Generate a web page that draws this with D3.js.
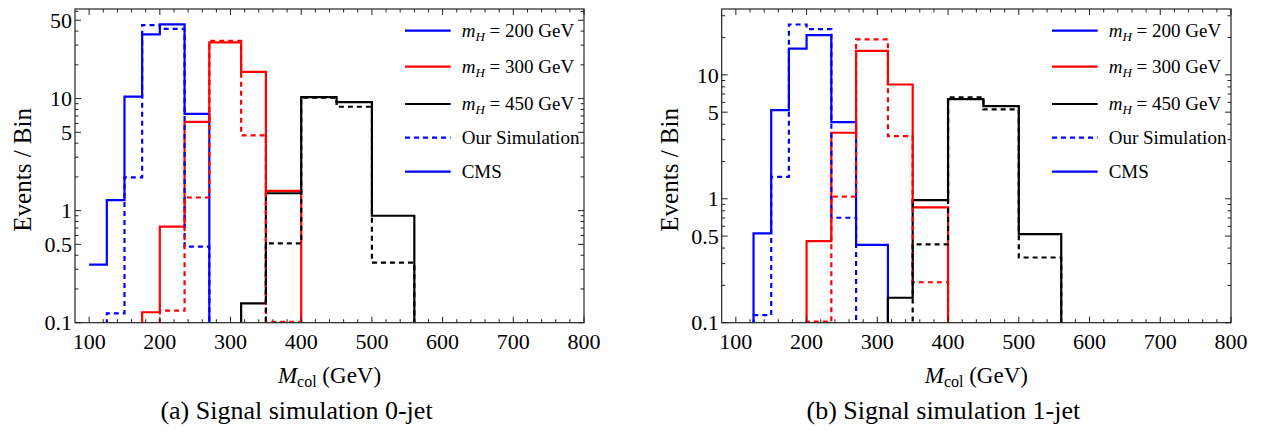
<!DOCTYPE html>
<html>
<head>
<meta charset="utf-8">
<script src="https://cdn.jsdelivr.net/npm/d3@7"></script>
<style>
  body { margin: 0; background: #fff; }
  svg { display: block; }
  svg text { font-family: "Liberation Serif", "Times New Roman", "DejaVu Serif", serif; }
</style>
</head>
<body>
<div id="chart"></div>
<script>
// bin edges in M_col (GeV), shared by every histogram
const edges = [100, 125, 150, 175, 200, 235, 270, 315, 350, 400, 450, 500, 560]

// 0-jet, events per bin (0 = below the plotted range)
const cms200_0j = [0.33, 1.24, 10.4, 37.4, 45.9, 7.3, 0, 0, 0, 0, 0, 0]
const cms300_0j = [0, 0, 0, 0.124, 0.72, 6.2, 31.7, 17.3, 1.5, 0, 0, 0]
const cms450_0j = [0, 0, 0, 0, 0, 0, 0, 0.149, 1.43, 10.3, 9.3, 0.9]
const sim200_0j = [0, 0.121, 1.98, 45.3, 41.9, 0.477, 0, 0, 0, 0, 0, 0]
const sim300_0j = [0, 0, 0, 0, 0.128, 1.31, 32.8, 4.7, 0.102, 0, 0, 0]
const sim450_0j = [0, 0, 0, 0, 0, 0, 0, 0, 0.51, 10.2, 8.45, 0.343]

// 1-jet
const cms200_1j = [0, 0.526, 5.19, 16.3, 20.9, 4.15, 0.424, 0, 0, 0, 0, 0]
const cms300_1j = [0, 0, 0, 0, 0.456, 3.41, 15.6, 8.36, 0.851, 0, 0, 0]
const cms450_1j = [0, 0, 0, 0, 0, 0, 0, 0.159, 0.976, 6.37, 5.59, 0.519]
const sim200_1j = [0, 0.115, 1.5, 25.5, 23.4, 0.703, 0, 0, 0, 0, 0, 0]
const sim300_1j = [0, 0, 0, 0, 0.102, 1.04, 19.3, 3.2, 0.212, 0, 0, 0]
const sim450_1j = [0, 0, 0, 0, 0, 0, 0, 0, 0.428, 6.57, 5.26, 0.336]

const xTicks = [100, 200, 300, 400, 500, 600, 700, 800]
const yLabels0j = [0.1, 0.5, 1, 5, 10, 50]
const yLabels1j = [0.1, 0.5, 1, 5, 10]

const legendItems = [
  { mass: "200", color: "blue", dash: null },
  { mass: "300", color: "red", dash: null },
  { mass: "450", color: "black", dash: null },
  { text: "Our Simulation", color: "blue", dash: "5,4" },
  { text: "CMS", color: "blue", dash: null }
]

const W = 1261, H = 439
const plotTop = 9, plotBottom = 322.7

const svg = d3.select("#chart").append("svg")
  .attr("width", W)
  .attr("height", H)

svg.append("rect").attr("width", W).attr("height", H).attr("fill", "#fff")

const panels = [
  {
    id: "a", left: 75, right: 584, ymax: 63, labels: yLabels0j,
    caption: "(a) Signal simulation 0-jet",
    series: [
      { v: cms200_0j, color: "blue" }, { v: cms300_0j, color: "red" }, { v: cms450_0j, color: "black" },
      { v: sim200_0j, color: "blue", dash: true }, { v: sim300_0j, color: "red", dash: true }, { v: sim450_0j, color: "black", dash: true }
    ]
  },
  {
    id: "b", left: 721.7, right: 1231, ymax: 34, labels: yLabels1j,
    caption: "(b) Signal simulation 1-jet",
    series: [
      { v: cms200_1j, color: "blue" }, { v: cms300_1j, color: "red" }, { v: cms450_1j, color: "black" },
      { v: sim200_1j, color: "blue", dash: true }, { v: sim300_1j, color: "red", dash: true }, { v: sim450_1j, color: "black", dash: true }
    ]
  }
]

function drawPanel(p) {
  const x = d3.scaleLinear().domain([80, 800]).range([p.left, p.right])
  const y = d3.scaleLog().domain([0.1, p.ymax]).range([plotBottom, plotTop])
  const g = svg.append("g")

  g.append("clipPath").attr("id", "clip-" + p.id)
    .append("rect")
    .attr("x", p.left).attr("y", plotTop)
    .attr("width", p.right - p.left).attr("height", plotBottom - plotTop)

  // empty bins fall below the frame and get clipped
  const yv = v => v > 0 ? y(v) : plotBottom + 20

  const step = vals => {
    const path = d3.path()
    vals.forEach((v, i) => {
      if (i === 0) path.moveTo(x(edges[0]), yv(v))
      else path.lineTo(x(edges[i]), yv(v))
      path.lineTo(x(edges[i + 1]), yv(v))
    })
    path.lineTo(x(edges[edges.length - 1]), plotBottom + 20)
    return path.toString()
  }

  g.append("g")
    .attr("clip-path", `url(#clip-${p.id})`)
    .selectAll("path")
    .data(p.series)
    .join("path")
    .attr("d", d => step(d.v))
    .attr("fill", "none")
    .attr("stroke", d => d.color)
    .attr("stroke-width", 2.2)
    .attr("stroke-dasharray", d => d.dash ? "5,4" : null)

  // frame
  g.append("rect")
    .attr("x", p.left).attr("y", plotTop)
    .attr("width", p.right - p.left).attr("height", plotBottom - plotTop)
    .attr("fill", "none").attr("stroke", "#222").attr("stroke-width", 1.2)

  // x ticks: majors every 100, minors every 20, on bottom and top
  const xMinor = d3.range(100, 800, 20).filter(t => t % 100 !== 0)
  const tickG = g.append("g").attr("stroke", "#222").attr("stroke-width", 1)
  const xt = [...xTicks.map(t => [t, 6]), ...xMinor.map(t => [t, 3.5])]
  tickG.selectAll(".xb").data(xt).join("line").attr("class", "xb")
    .attr("x1", d => x(d[0])).attr("x2", d => x(d[0]))
    .attr("y1", plotBottom).attr("y2", d => plotBottom - d[1])
  tickG.selectAll(".xt").data(xt).join("line").attr("class", "xt")
    .attr("x1", d => x(d[0])).attr("x2", d => x(d[0]))
    .attr("y1", plotTop).attr("y2", d => plotTop + d[1])

  // y ticks: every integer multiple of a decade, labelled ones longer
  const yt = []
  for (const dec of [0.1, 1, 10]) {
    for (let k = 1; k <= 9; k++) {
      const t = +(k * dec).toPrecision(3)
      if (t <= p.ymax) yt.push([t, p.labels.includes(t) ? 6 : 3.5])
    }
  }
  tickG.selectAll(".yl").data(yt).join("line").attr("class", "yl")
    .attr("x1", p.left).attr("x2", d => p.left + d[1])
    .attr("y1", d => y(d[0])).attr("y2", d => y(d[0]))
  tickG.selectAll(".yr").data(yt).join("line").attr("class", "yr")
    .attr("x1", p.right).attr("x2", d => p.right - d[1])
    .attr("y1", d => y(d[0])).attr("y2", d => y(d[0]))

  // tick labels
  g.append("g").selectAll("text").data(xTicks).join("text")
    .attr("x", d => x(d)).attr("y", 349)
    .attr("text-anchor", "middle")
    .attr("font-size", 22)
    .text(d => d)

  g.append("g").selectAll("text").data(p.labels).join("text")
    .attr("x", p.left - 3).attr("y", d => y(d))
    .attr("dy", "0.35em")
    .attr("text-anchor", "end")
    .attr("font-size", 22)
    .text(d => d)

  // axis labels
  const xl = g.append("text")
    .attr("x", (p.left + p.right) / 2).attr("y", 383)
    .attr("text-anchor", "middle")
    .attr("font-size", 23)
  xl.append("tspan").attr("font-style", "italic").text("M")
  xl.append("tspan").attr("font-size", 16).attr("dy", 4).text("col")
  xl.append("tspan").attr("dy", -4).text(" (GeV)")

  g.append("text")
    .attr("transform", `translate(${p.left - 44},${(plotTop + plotBottom) / 2 + 4}) rotate(-90)`)
    .attr("text-anchor", "middle")
    .attr("font-size", 25)
    .text("Events / Bin")

  // caption
  g.append("text")
    .attr("x", (p.left + p.right) / 2 - 33).attr("y", 419)
    .attr("text-anchor", "middle")
    .attr("font-size", 26)
    .text(p.caption)

  // legend
  const lx = p.right - 179
  const rows = [30.7, 66.7, 104, 137.7, 171.7]
  const lg = g.append("g").selectAll("g").data(legendItems).join("g")
    .attr("transform", (d, i) => `translate(${lx},${rows[i]})`)
  lg.append("line")
    .attr("x1", 0).attr("x2", 45.7)
    .attr("stroke", d => d.color)
    .attr("stroke-width", 2.2)
    .attr("stroke-dasharray", d => d.dash)
  const lt = lg.append("text")
    .attr("x", 56.7).attr("dy", "0.33em")
    .attr("font-size", 19)
  lt.filter(d => d.text).text(d => d.text)
  lt.filter(d => d.mass).each(function(d) {
    const t = d3.select(this)
    t.append("tspan").attr("font-style", "italic").text("m")
    t.append("tspan").attr("font-style", "italic").attr("font-size", 13).attr("dy", 4).text("H")
    t.append("tspan").attr("dy", -4).text(` = ${d.mass} GeV`)
  })
}

panels.forEach(drawPanel)
</script>
</body>
</html>
